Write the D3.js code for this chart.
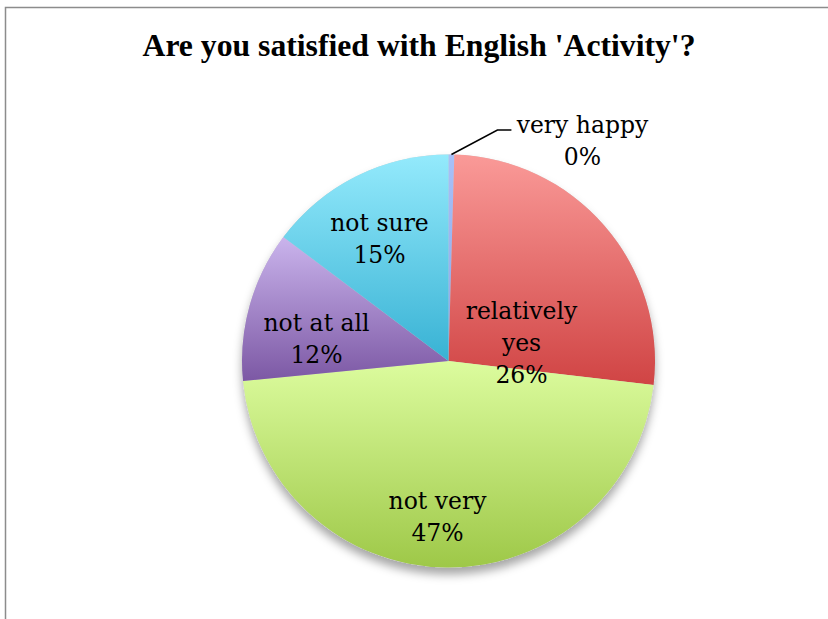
<!DOCTYPE html>
<html><head><meta charset="utf-8">
<script src="https://cdn.jsdelivr.net/npm/d3@7"></script>
<style>html,body{margin:0;padding:0;background:#fff;}svg{display:block;}</style>
</head><body>
<script>
const categories = ["very happy", "relatively yes", "not very", "not at all", "not sure"];
const values = [0.45, 26.4, 46.6, 11.8, 14.75];
const titleText = "Are you satisfied with English 'Activity'?";
const colorsTop = ["#a8c0f8", "#fa9a98", "#dcfc9e", "#cab4ec", "#94eafc"];
const colorsBottom = ["#8aa8e8", "#d04444", "#9ec848", "#7c58a4", "#38b2d4"];
// label block centers relative to pie center (layout)
const labelOffsets = [[134, -220], [73, -18], [-11, 156], [-132, -22], [-69, -122]];

const W = 828, H = 619;
const cx = 448.5, cy = 361, R = 206.5;
const svg = d3.select("body").append("svg").attr("width", W).attr("height", H);
const defs = svg.append("defs");

const sh = defs.append("filter").attr("id", "shadow").attr("x", "-20%").attr("y", "-20%").attr("width", "140%").attr("height", "140%");
sh.append("feDropShadow").attr("dx", 0).attr("dy", 7).attr("stdDeviation", 5).attr("flood-color", "#000").attr("flood-opacity", 0.35);

categories.forEach((c, i) => {
  const g = defs.append("linearGradient").attr("id", "g" + i).attr("x1", 0).attr("y1", 0).attr("x2", 0).attr("y2", 1);
  g.append("stop").attr("offset", "0%").attr("stop-color", colorsTop[i]);
  g.append("stop").attr("offset", "100%").attr("stop-color", colorsBottom[i]);
});

// border
svg.append("path").attr("d", `M5.5,${H + 5} L5.5,7.5 L${W + 5},7.5`).attr("fill", "none").attr("stroke", "#8c8c8c").attr("stroke-width", 1.5);

// title
svg.append("text").attr("x", 419).attr("y", 56).attr("text-anchor", "middle")
  .attr("font-family", "Liberation Serif, Times New Roman, serif").attr("font-weight", "bold")
  .attr("font-size", 31).attr("textLength", 553).attr("lengthAdjust", "spacingAndGlyphs")
  .attr("fill", "#000").text(titleText);

const data = categories.map((c, i) => ({ cat: c, value: values[i], i }));
const pie = d3.pie().sort(null).value(d => d.value);
const arcs = pie(data);
const arc = d3.arc().innerRadius(0).outerRadius(R);

const gp = svg.append("g").attr("transform", `translate(${cx},${cy})`);
gp.append("circle").attr("r", R).attr("fill", "#ccc").attr("filter", "url(#shadow)");
gp.selectAll("path.slice").data(arcs).join("path").attr("class", "slice")
  .attr("d", arc).attr("fill", d => `url(#g${d.data.i})`);

// leader line for very happy
const vh = arcs[0];
const ma = (vh.startAngle + vh.endAngle) / 2;
const p0 = [Math.sin(ma) * R, -Math.cos(ma) * R];
gp.append("polyline").attr("points", `${p0[0]},${p0[1]} ${p0[0] + 46},${-231} ${p0[0] + 60},${-231}`)
  .attr("fill", "none").attr("stroke", "#000").attr("stroke-width", 1.5);

// labels
const total = d3.sum(values);
arcs.forEach((d, i) => {
  const pct = Math.round(d.data.value / total * 100) + "%";
  const lines = d.data.cat === "relatively yes" ? ["relatively", "yes", pct] : [d.data.cat, pct];
  const lh = 32;
  const [ox, oy] = labelOffsets[i];
  const t = gp.append("text").attr("text-anchor", "middle")
    .attr("font-family", "DejaVu Serif, serif").attr("font-size", 23.5).attr("fill", "#000");
  lines.forEach((l, k) => {
    t.append("tspan").attr("x", ox).attr("y", oy + (k - (lines.length - 1) / 2) * lh + 8).text(l);
  });
});
</script>
</body></html>
